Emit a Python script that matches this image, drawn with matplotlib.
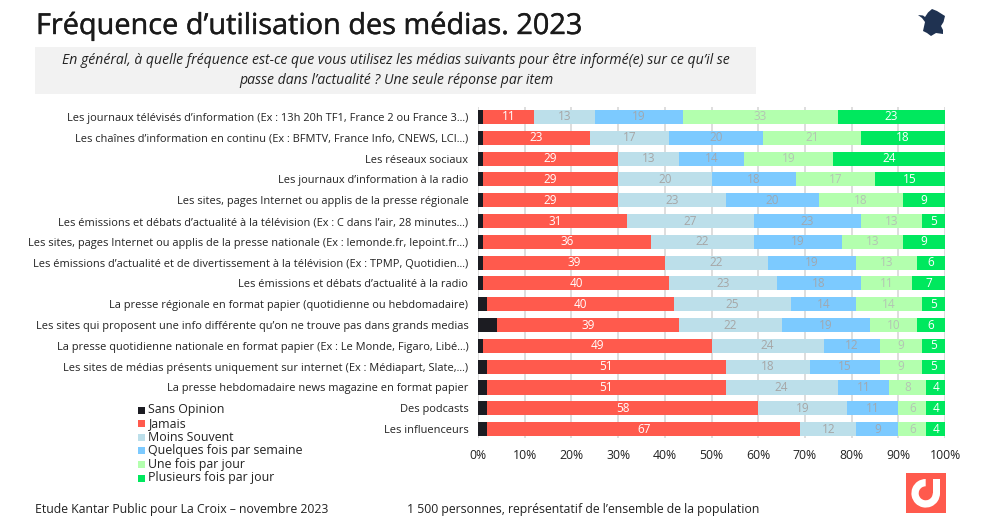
import matplotlib
matplotlib.use("Agg")
import matplotlib.pyplot as plt
import matplotlib.patheffects as pe
from matplotlib.patches import Rectangle, Polygon, Wedge

plt.rcParams['font.family'] = ['Open Sans', 'DejaVu Sans']

categories = [
    "Les journaux télévisés d’information (Ex : 13h 20h TF1, France 2 ou France 3...)",
    "Les chaînes d’information en continu (Ex : BFMTV, France Info, CNEWS, LCI...)",
    "Les réseaux sociaux",
    "Les journaux d’information à la radio",
    "Les sites, pages Internet ou applis de la presse régionale",
    "Les émissions et débats d’actualité à la télévision (Ex : C dans l’air, 28 minutes...)",
    "Les sites, pages Internet ou applis de la presse nationale (Ex : lemonde.fr, lepoint.fr...)",
    "Les émissions d’actualité et de divertissement à la télévision (Ex : TPMP, Quotidien...)",
    "Les émissions et débats d’actualité à la radio",
    "La presse régionale en format papier (quotidienne ou hebdomadaire)",
    "Les sites qui proposent une info différente qu’on ne trouve pas dans grands medias",
    "La presse quotidienne nationale en format papier (Ex : Le Monde, Figaro, Libé...)",
    "Les sites de médias présents uniquement sur internet (Ex : Médiapart, Slate,...)",
    "La presse hebdomadaire news magazine en format papier",
    "Des podcasts",
    "Les influenceurs",
]
sans_opinion = [1, 1, 1, 1, 1, 1, 1, 1, 1, 2, 4, 1, 2, 2, 2, 2]
jamais = [11, 23, 29, 29, 29, 31, 36, 39, 40, 40, 39, 49, 51, 51, 58, 67]
moins_souvent = [13, 17, 13, 20, 23, 27, 22, 22, 23, 25, 22, 24, 18, 24, 19, 12]
quelques_fois = [19, 20, 14, 18, 20, 23, 19, 19, 18, 14, 19, 12, 15, 11, 11, 9]
une_fois = [33, 21, 19, 17, 18, 13, 13, 13, 11, 14, 10, 9, 9, 8, 6, 6]
plusieurs_fois = [23, 18, 24, 15, 9, 5, 9, 6, 7, 5, 6, 5, 5, 4, 4, 4]

series_names = ["Sans Opinion", "Jamais", "Moins Souvent", "Quelques fois par semaine",
                "Une fois par jour", "Plusieurs fois par jour"]
series_values = [sans_opinion, jamais, moins_souvent, quelques_fois, une_fois, plusieurs_fois]
series_colors = ["#1c1c22", "#ff5a4d", "#bcdfea", "#7ccaff", "#b3ffae", "#00e85e"]
label_colors = [None, "white", "#a6a6a6", "#a0a8b0", "#b4c4b4", "white"]
xticks = [0, 10, 20, 30, 40, 50, 60, 70, 80, 90, 100]

W, H = 1000, 528
fig = plt.figure(figsize=(W / 100, H / 100), dpi=100)

# pixel-space overlay for the page furniture
bg = fig.add_axes([0, 0, 1, 1])
bg.set_xlim(0, W)
bg.set_ylim(H, 0)
bg.axis("off")
bg.add_patch(Rectangle((35, 47), 721, 47, fc="#f2f2f2", ec="none"))
title = bg.text(36, 26, "Fréquence d’utilisation des médias. 2023", fontsize=20.8, color="#1a1a1a",
                va="center", ha="left")
title.set_path_effects([pe.withStroke(linewidth=0.3, foreground="#1a1a1a")])
bg.text(396, 61, "En général, à quelle fréquence est-ce que vous utilisez les médias suivants pour être informé(e) sur ce qu’il se",
        fontsize=10.07, style="italic", color="#222222", ha="center", va="center")
bg.text(396, 80, "passe dans l’actualité ? Une seule réponse par item",
        fontsize=10.07, style="italic", color="#222222", ha="center", va="center")
bg.text(35, 510, "Etude Kantar Public pour La Croix – novembre 2023", fontsize=8.85, color="#222222", va="center")
bg.text(407, 510, "1 500 personnes, représentatif de l’ensemble de la population", fontsize=8.85, color="#222222", va="center")

# France silhouette
france = [(918, 15), (923, 15.5), (925, 17), (928, 12.5), (932, 9), (937, 11), (945, 16),
          (943.5, 22), (941, 26), (943, 30), (943, 34), (936, 33), (931, 36),
          (927, 33), (923, 31), (925, 22), (922, 18)]
bg.add_patch(Polygon(france, closed=True, fc="#1f3251", ec="none"))

# Logo
bg.add_patch(Rectangle((906, 473), 40, 40, fc="#ff5a4d", ec="none"))
bg.add_patch(Wedge((925.7, 493.3), 14.3, 0, 270, width=7.3, fc="white", ec="none"))
bg.add_patch(Rectangle((933, 479), 7, 14.5, fc="white", ec="none"))

# Legend drawn as tight, evenly spaced rows
for i, (name, col) in enumerate(zip(series_names, series_colors)):
    ly = 410 + 13.6 * i
    bg.add_patch(Rectangle((138, ly - 3.5), 7, 7, fc=col, ec="none"))
    bg.text(148.5, ly + 3.5, name, fontsize=8.9, color="#222222", va="baseline", ha="left")

# Main chart
ax = fig.add_axes([478 / W, 1 - 438 / H, (945 - 478) / W, (438 - 107) / H])
ax.patch.set_alpha(0)
y = list(range(len(categories)))
left = [0] * len(categories)
for name, vals, col, lc in zip(series_names, series_values, series_colors, label_colors):
    bars = ax.barh(y, vals, left=left, height=0.68, color=col, edgecolor="none", label=name, zorder=3)
    if lc:
        ax.bar_label(bars, labels=[str(v) for v in vals], label_type="center", color=lc,
                     fontsize=8.5, zorder=4)
    left = [a + b for a, b in zip(left, vals)]

ax.set_xlim(0, 100)
ax.set_ylim(15.43, -0.48)
ax.set_yticks(y)
ax.set_yticklabels(categories, fontsize=7.92, color="#222222")
ax.set_xticks(xticks)
ax.set_xticklabels([f"{t}%" for t in xticks], fontsize=8.8, color="#222222")
ax.tick_params(axis="both", length=0)
ax.tick_params(axis="y", pad=7)
ax.tick_params(axis="x", pad=8)
ax.grid(axis="x", color="#d4d4d4", lw=1.1)
ax.set_axisbelow(True)
for s in ax.spines.values():
    s.set_visible(False)

fig.savefig("out.png", dpi=100)
